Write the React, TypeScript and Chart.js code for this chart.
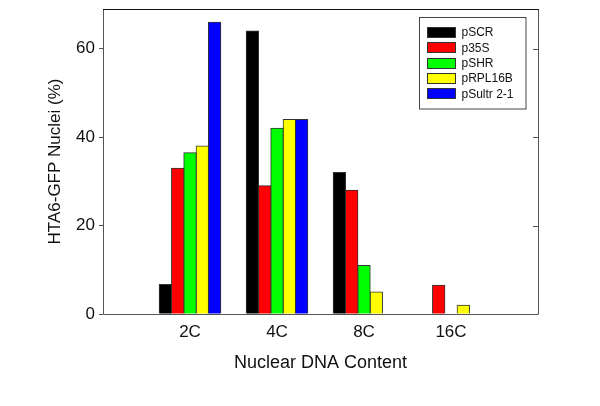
import React, { useEffect, useRef } from "react";
import { Chart, registerables } from "chart.js";

Chart.register(...registerables);

const categories = ["2C", "4C", "8C", "16C"];
const seriesNames = ["pSCR", "p35S", "pSHR", "pRPL16B", "pSultr 2-1"];
const pSCR = [6.7, 64, 32, 0];
const p35S = [33, 29, 28, 6.5];
const pSHR = [36.5, 42, 11, 0];
const pRPL16B = [38, 44, 5, 2];
const pSultr21 = [66, 44, 0, 0];
const seriesColors = ["#000000", "#ff0000", "#00ff00", "#ffff00", "#0000ff"];
const yTicks = [0, 20, 40, 60];
const yMax = 69;

const FONT = "'Liberation Sans', Arial, Helvetica, sans-serif";

const framePlugin = {
  id: "frameAndLegend",
  afterDraw(chart: any) {
    const { ctx, chartArea } = chart;
    const { left, right, top, bottom } = chartArea;
    ctx.save();
    // frame
    ctx.lineWidth = 1;
    ctx.strokeStyle = "#555555";
    ctx.beginPath();
    ctx.moveTo(left + 0.5, top);
    ctx.lineTo(left + 0.5, bottom + 0.5);
    ctx.lineTo(right + 0.5, bottom + 0.5);
    ctx.lineTo(right + 0.5, top);
    ctx.stroke();
    ctx.strokeStyle = "#111111";
    ctx.beginPath();
    ctx.moveTo(left, top + 0.5);
    ctx.lineTo(right + 1, top + 0.5);
    ctx.stroke();
    // mirror ticks on right
    const ys = chart.scales.y;
    ctx.strokeStyle = "#555555";
    ys.ticks.forEach((t: any) => {
      if (t.value === 0) return;
      const py = Math.round(ys.getPixelForValue(t.value)) + 0.5;
      ctx.beginPath();
      ctx.moveTo(right - 5, py);
      ctx.lineTo(right, py);
      ctx.stroke();
    });
    // legend
    const bx = 419.5, by = 17.5, bw = 106.5, bh = 91.5;
    ctx.fillStyle = "#ffffff";
    ctx.fillRect(bx, by, bw, bh);
    ctx.strokeStyle = "#444444";
    ctx.strokeRect(bx, by, bw, bh);
    ctx.font = `12px ${FONT}`;
    ctx.textBaseline = "middle";
    ctx.textAlign = "left";
    chart.data.datasets.forEach((ds: any, i: number) => {
      const cy = 32.5 + i * 15.3;
      ctx.fillStyle = ds.backgroundColor;
      ctx.fillRect(428, Math.round(cy - 4.5), 27, 9);
      ctx.strokeStyle = "#333333";
      ctx.strokeRect(427.5, Math.round(cy - 4.5) - 0.5, 28, 10);
      ctx.fillStyle = "#111111";
      ctx.fillText(ds.label, 461.5, cy + 0.5);
    });
    ctx.restore();
  },
};

export default function App() {
  const ref = useRef<HTMLCanvasElement>(null);
  useEffect(() => {
    if (!ref.current) return;
    const series = [pSCR, p35S, pSHR, pRPL16B, pSultr21];
    const labels = ["", ...categories, ""];
    const chart = new Chart(ref.current, {
      type: "bar",
      data: {
        labels,
        datasets: series.map((vals, i) => ({
          label: seriesNames[i],
          data: [null, ...vals, null],
          backgroundColor: seriesColors[i],
          borderColor: "#333333",
          borderWidth: 1,
          borderSkipped: "start",
          inflateAmount: 0.5,
          categoryPercentage: 0.707,
          barPercentage: 1,
        })),
      },
      options: {
        animation: false,
        responsive: false,
        maintainAspectRatio: false,
        layout: { padding: { top: 9, right: 62, left: 0, bottom: 0 } },
        plugins: { legend: { display: false }, tooltip: { enabled: false } },
        scales: {
          x: {
            offset: false,
            grid: { display: false, drawTicks: false },
            border: { display: false },
            ticks: {
              autoSkip: false,
              maxRotation: 0,
              padding: 8,
              color: "#111111",
              font: { family: FONT, size: 17 },
            },
            title: {
              display: true,
              text: "Nuclear DNA Content",
              color: "#111111",
              font: { family: FONT, size: 18 },
              padding: { top: 0, bottom: 32 },
            },
            afterFit(scale: any) {
              scale.height = 92;
              scale.paddingLeft = 0;
              scale.paddingRight = 0;
            },
          },
          y: {
            min: 0,
            max: yMax,
            bounds: "data",
            grid: {
              drawOnChartArea: false,
              drawTicks: true,
              tickLength: 4,
              color: "#555555",
            },
            border: { display: false },
            ticks: {
              includeBounds: false,
              stepSize: 20,
              padding: 4,
              color: "#111111",
              font: { family: FONT, size: 17 },
            },
            afterBuildTicks(scale: any) {
              scale.ticks = yTicks.map((v) => ({ value: v }));
            },
            title: {
              display: true,
              text: "HTA6-GFP Nuclei (%)",
              color: "#111111",
              font: { family: FONT, size: 17 },
              padding: { top: 45, bottom: 0 },
            },
            afterFit(scale: any) {
              scale.width = 103;
              scale.paddingTop = 0;
              scale.paddingBottom = 0;
            },
          },
        },
      },
      plugins: [framePlugin],
    } as any);
    return () => chart.destroy();
  }, []);
  return (
    <div style={{ position: "fixed", left: 0, top: 0, width: 600, height: 406, background: "#ffffff" }}>
      <canvas ref={ref} width={600} height={406} />
    </div>
  );
}
